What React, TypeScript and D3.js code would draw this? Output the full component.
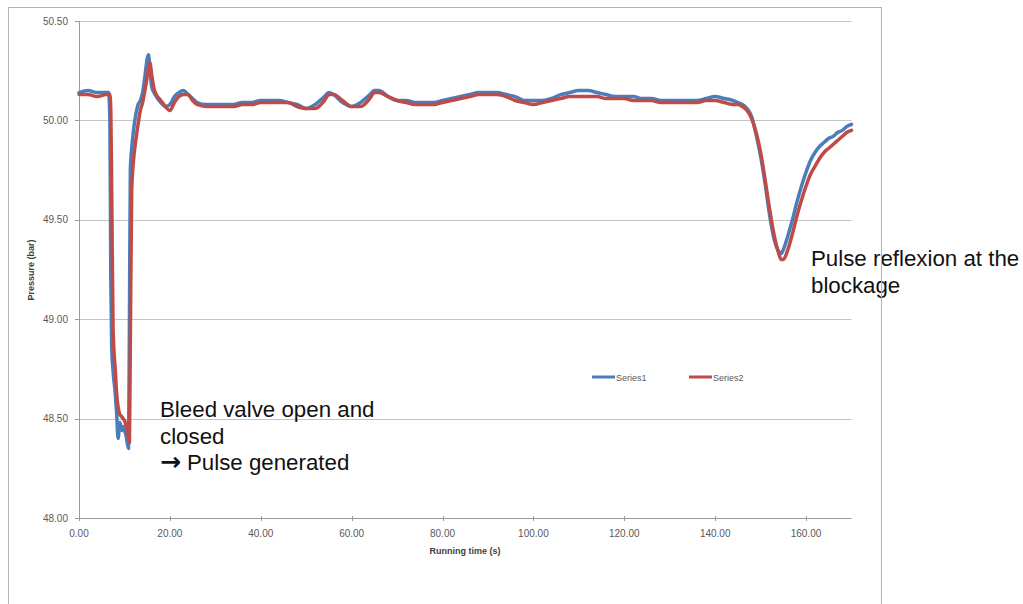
import { useEffect, useRef } from 'react'
import * as d3 from 'd3'

// running time (s), shared by both series
const timeS = [
  0, 2, 4, 6, 6.5, 6.8, 7.0, 7.2, 7.5,
  8.0, 8.3, 8.6, 9.0, 9.4, 9.7, 10.0, 10.3, 10.6, 10.9,
  11.1, 11.3, 11.6, 12.0, 12.5, 13.0, 13.5, 14.0, 14.5, 15.0, 15.3, 15.6, 16.0, 16.5,
  17, 18, 19, 20, 21, 22, 23, 24, 25, 26, 28, 30,
  32, 34, 36, 38, 40, 42, 44, 46, 48, 50, 52, 54, 55, 56, 58, 60, 62, 64,
  65, 66, 68, 70, 72, 74, 76, 78, 80, 82, 84, 86, 88, 90, 92, 94, 96, 98, 100,
  102, 104, 106, 108, 110, 112, 114, 116, 118, 120, 122, 124, 126, 128, 130, 132, 134, 136, 138, 140, 142, 144,
  145, 146, 147, 148, 149, 150, 151, 152, 153, 154, 154.5, 155, 156, 157, 158, 159, 160, 161, 162, 163, 164, 165, 166, 167, 168, 169, 170
]

const series1 = [
  50.14, 50.15, 50.14, 50.14, 50.14, 50.0, 49.2, 48.85, 48.74,
  48.62, 48.52, 48.40, 48.48, 48.44, 48.46, 48.44, 48.42, 48.38, 48.35,
  49.00, 49.75, 49.86, 49.95, 50.03, 50.08, 50.10, 50.14, 50.22, 50.31, 50.33, 50.26, 50.17, 50.14,
  50.12, 50.09, 50.07, 50.08, 50.12, 50.14, 50.15, 50.13, 50.11, 50.09, 50.08, 50.08,
  50.08, 50.08, 50.09, 50.09, 50.10, 50.10, 50.10, 50.09, 50.08, 50.06, 50.08, 50.12, 50.14, 50.13, 50.09, 50.07, 50.09, 50.13,
  50.15, 50.15, 50.12, 50.10, 50.10, 50.09, 50.09, 50.09, 50.10, 50.11, 50.12, 50.13, 50.14, 50.14, 50.14, 50.13, 50.12, 50.10, 50.10,
  50.10, 50.11, 50.13, 50.14, 50.15, 50.15, 50.14, 50.13, 50.12, 50.12, 50.12, 50.11, 50.11, 50.10, 50.10, 50.10, 50.10, 50.10, 50.11, 50.12, 50.11, 50.10,
  50.09, 50.08, 50.06, 50.02, 49.93, 49.82, 49.68, 49.52, 49.40, 49.34, 49.33, 49.35, 49.42, 49.50, 49.59, 49.67, 49.74, 49.80, 49.84, 49.87, 49.89, 49.91, 49.92, 49.94, 49.95, 49.97, 49.98
]

const series2 = [
  50.13, 50.13, 50.12, 50.13, 50.13, 50.13, 50.05, 49.64, 48.95,
  48.74, 48.62, 48.56, 48.52, 48.51, 48.50, 48.49, 48.47, 48.44, 48.40,
  48.38, 48.90, 49.65, 49.80, 49.90, 49.98, 50.05, 50.09, 50.15, 50.22, 50.27, 50.29, 50.23, 50.16,
  50.13, 50.10, 50.07, 50.05, 50.09, 50.12, 50.13, 50.13, 50.10, 50.08, 50.07, 50.07,
  50.07, 50.07, 50.08, 50.08, 50.09, 50.09, 50.09, 50.09, 50.07, 50.06, 50.06, 50.10, 50.13, 50.13, 50.10, 50.07, 50.07, 50.11,
  50.14, 50.14, 50.12, 50.10, 50.09, 50.08, 50.08, 50.08, 50.09, 50.10, 50.11, 50.12, 50.13, 50.13, 50.13, 50.12, 50.10, 50.09, 50.08,
  50.09, 50.10, 50.11, 50.12, 50.12, 50.12, 50.12, 50.11, 50.11, 50.11, 50.10, 50.10, 50.10, 50.09, 50.09, 50.09, 50.09, 50.09, 50.10, 50.10, 50.09, 50.08,
  50.08, 50.07, 50.05, 50.01, 49.94, 49.84, 49.70, 49.55, 49.42, 49.33, 49.30, 49.30, 49.35, 49.43, 49.52, 49.60, 49.67, 49.73, 49.77, 49.81, 49.84, 49.86, 49.88, 49.90, 49.92, 49.94, 49.95
]

const xTicks = [0, 20, 40, 60, 80, 100, 120, 140, 160]
const yTicks = [48.0, 48.5, 49.0, 49.5, 50.0, 50.5]
const seriesNames = ['Series1', 'Series2']
const seriesColors = ['#4a7ebb', '#be4b48']

const noteLeft = ['Bleed valve  open and', 'closed', 'Pulse generated']
const noteRight = ['Pulse reflexion at the', 'blockage']

export default function App() {
  const svgRef = useRef<SVGSVGElement>(null)

  useEffect(() => {
    if (!svgRef.current) return
    const svg = d3.select(svgRef.current)
    svg.selectAll('*').remove()

    const tickFont = '"Liberation Sans", Arial, sans-serif'
    const x = d3.scaleLinear().domain([0, 170]).range([79, 851.5])
    const y = d3.scaleLinear().domain([48, 50.5]).range([518, 21])

    // gridlines
    svg.append('g')
      .selectAll('line')
      .data(yTicks.slice(1))
      .enter()
      .append('line')
      .attr('x1', x(0))
      .attr('x2', x(170))
      .attr('y1', d => Math.round(y(d)) + 0.5)
      .attr('y2', d => Math.round(y(d)) + 0.5)
      .style('stroke', '#c4c4c4')
      .style('stroke-width', 1)

    // axes
    const axisColor = '#9a9a9a'
    svg.append('line')
      .attr('x1', x(0) + 0.5).attr('x2', x(0) + 0.5)
      .attr('y1', y(50.5)).attr('y2', y(48))
      .style('stroke', axisColor)
    svg.append('line')
      .attr('x1', x(0)).attr('x2', x(170))
      .attr('y1', Math.round(y(48)) + 0.5).attr('y2', Math.round(y(48)) + 0.5)
      .style('stroke', axisColor)

    svg.append('g')
      .selectAll('line')
      .data(yTicks)
      .enter()
      .append('line')
      .attr('x1', x(0) - 4).attr('x2', x(0))
      .attr('y1', d => Math.round(y(d)) + 0.5)
      .attr('y2', d => Math.round(y(d)) + 0.5)
      .style('stroke', axisColor)

    svg.append('g')
      .selectAll('text')
      .data(yTicks)
      .enter()
      .append('text')
      .attr('x', 68)
      .attr('y', d => y(d) + 3.5)
      .style('text-anchor', 'end')
      .style('font-family', tickFont)
      .style('font-size', '10px')
      .style('fill', '#595959')
      .text(d => d.toFixed(2))

    svg.append('g')
      .selectAll('line')
      .data(xTicks)
      .enter()
      .append('line')
      .attr('x1', d => Math.round(x(d)) + 0.5)
      .attr('x2', d => Math.round(x(d)) + 0.5)
      .attr('y1', y(48) - 2).attr('y2', y(48) + 3)
      .style('stroke', axisColor)

    svg.append('g')
      .selectAll('text')
      .data(xTicks)
      .enter()
      .append('text')
      .attr('x', d => x(d))
      .attr('y', 537)
      .style('text-anchor', 'middle')
      .style('font-family', tickFont)
      .style('font-size', '10px')
      .style('fill', '#595959')
      .text(d => d.toFixed(2))

    // axis titles
    svg.append('text')
      .attr('x', 465)
      .attr('y', 554)
      .style('text-anchor', 'middle')
      .style('font-family', tickFont)
      .style('font-size', '9px')
      .style('font-weight', 'bold')
      .style('fill', '#404040')
      .text('Running time (s)')

    svg.append('text')
      .attr('transform', 'translate(34,270) rotate(-90)')
      .style('text-anchor', 'middle')
      .style('font-family', tickFont)
      .style('font-size', '9px')
      .style('font-weight', 'bold')
      .style('fill', '#404040')
      .text('Pressure (bar)')

    // series
    const line = d3.line<number>()
      .x((_, i) => x(timeS[i]))
      .y(d => y(d))
      .curve(d3.curveMonotoneX)

    ;[series1, series2].forEach((s, k) => {
      svg.append('path')
        .datum(s)
        .attr('d', line)
        .style('fill', 'none')
        .style('stroke', seriesColors[k])
        .style('stroke-width', 3.5)
        .style('stroke-linejoin', 'round')
        .style('stroke-linecap', 'round')
    })

    // legend
    const legend = svg.append('g')
      .selectAll('g')
      .data(seriesNames)
      .enter()
      .append('g')
      .attr('transform', (_, i) => `translate(${592 + i * 97},377)`)
    legend.append('line')
      .attr('x1', 0).attr('x2', 23)
      .style('stroke', (_, i) => seriesColors[i])
      .style('stroke-width', 3)
    legend.append('text')
      .attr('x', 24)
      .attr('y', 3.5)
      .style('font-family', tickFont)
      .style('font-size', '9px')
      .style('fill', '#595959')
      .text(d => d)

    // annotations
    const noteFont = '"Liberation Sans", Arial, sans-serif'
    const left = svg.append('g')
      .selectAll('text')
      .data(noteLeft)
      .enter()
      .append('text')
      .attr('x', 160)
      .attr('y', (_, i) => 417 + i * 26.5)
      .style('font-family', noteFont)
      .style('font-size', '22.3px')
      .style('fill', '#111')
    left.filter((_, i) => i === 2)
      .append('tspan')
      .style('font-family', '"DejaVu Sans", sans-serif')
      .style('font-size', '25px')
      .style('font-weight', 'bold')
      .text('\u2192')
    left.append('tspan')
      .attr('dx', (_, i) => (i === 2 ? 6 : 0))
      .text(d => d)

    svg.append('g')
      .selectAll('text')
      .data(noteRight)
      .enter()
      .append('text')
      .attr('x', 811)
      .attr('y', (_, i) => 266 + i * 26.5)
      .style('font-family', noteFont)
      .style('font-size', '22.3px')
      .style('fill', '#111')
      .text(d => d)

    // chart frame
    svg.append('rect')
      .attr('x', 8.5)
      .attr('y', 7.5)
      .attr('width', 873)
      .attr('height', 620)
      .style('fill', 'none')
      .style('stroke', '#b4b4b4')
      .style('stroke-width', 1)
  }, [])

  return (
    <svg
      ref={svgRef}
      width={1023}
      height={604}
      style={{ position: 'absolute', left: 0, top: 0, background: '#fff' }}
    ></svg>
  )
}
